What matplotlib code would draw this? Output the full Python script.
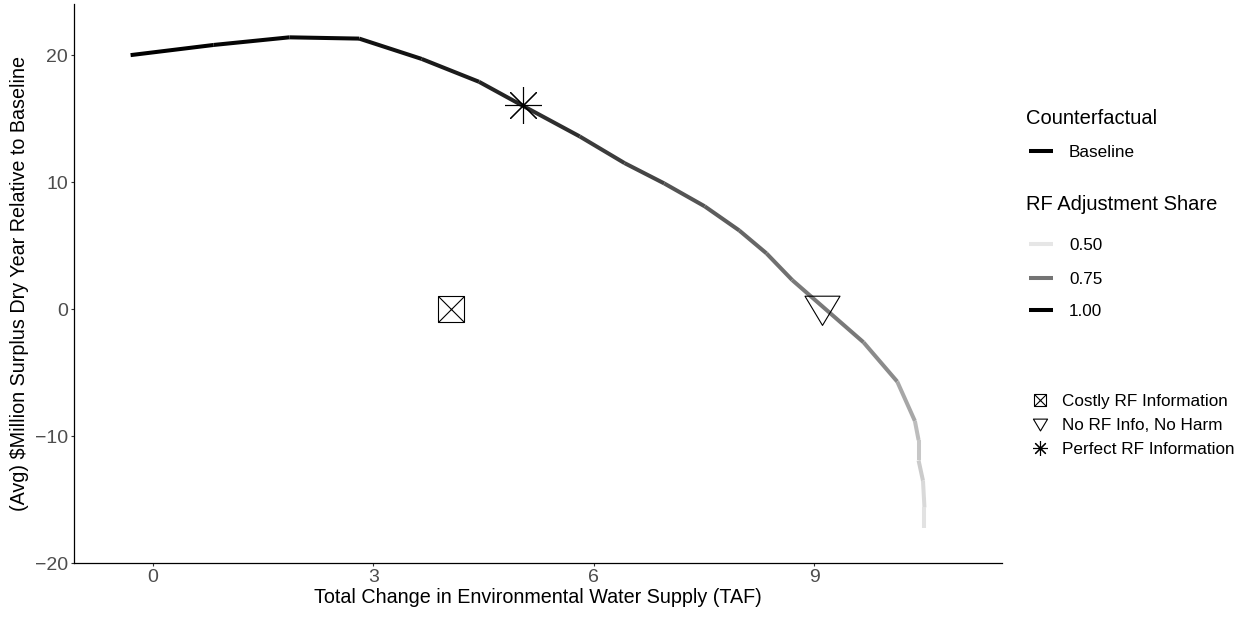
import matplotlib
matplotlib.use("Agg")
import matplotlib.pyplot as plt
import numpy as np
from matplotlib.collections import LineCollection
from matplotlib.colors import LinearSegmentedColormap, Normalize
from matplotlib.lines import Line2D
from matplotlib.path import Path

plt.rcParams["font.family"] = ["Liberation Sans", "DejaVu Sans"]

# frontier: environmental water gain vs. surplus change, coloured by RF adjustment share
water_taf = [-0.30, 0.83, 1.86, 2.81, 3.66, 4.44, 5.04, 5.81, 6.42, 6.96, 7.51,
             7.98, 8.35, 8.70, 9.67, 10.13, 10.37, 10.42, 10.42, 10.48, 10.50, 10.50]
surplus = [20.0, 20.8, 21.4, 21.3, 19.7, 17.9, 16.0, 13.6, 11.5, 9.9, 8.1,
           6.2, 4.4, 2.3, -2.6, -5.7, -8.8, -10.3, -11.9, -13.5, -15.6, -17.2]
rf_share = [1.00, 0.99, 0.98, 0.96, 0.94, 0.92, 0.90, 0.87, 0.85, 0.82, 0.80,
            0.78, 0.76, 0.74, 0.70, 0.64, 0.59, 0.57, 0.56, 0.53, 0.51, 0.50]

# single counterfactual scenarios
costly_info = (4.06, 0.0)
no_info = (9.11, 0.0)
perfect_info = (5.04, 16.06)

share_breaks = [0.50, 0.75, 1.00]
point_labels = ["Costly RF Information", "No RF Info, No Harm", "Perfect RF Information"]
x_ticks = [0, 3, 6, 9]
y_ticks = [-20, -10, 0, 10, 20]

W, H = 1245, 617
grey_ramp = LinearSegmentedColormap.from_list("greys", ["#e6e6e6", "#747474", "#000000"])
norm = Normalize(0.5, 1.0)

fig = plt.figure(figsize=(W / 100, H / 100), dpi=100)
ax = fig.add_axes([74 / W, 1 - 563.3 / H, (1002 - 74) / W, (563.3 - 4.3) / H])

pts = np.column_stack([water_taf, surplus])
segs = np.stack([pts[:-1], pts[1:]], axis=1)
seg_share = np.array(rf_share[:-1])
lc = LineCollection(segs, colors=grey_ramp(norm(seg_share)), linewidths=2.9,
                    capstyle="butt", joinstyle="round")
ax.add_collection(lc)

# point markers
tri = Path([(-1, 0.76), (1, 0.76), (0, -0.91), (-1, 0.76)],
           [Path.MOVETO, Path.LINETO, Path.LINETO, Path.CLOSEPOLY])
ax.plot(*costly_info, marker="s", ms=19.4, mfc="none", mec="black", mew=0.8, ls="none")
ax.plot(*costly_info, marker="x", ms=19.4, mec="black", mew=0.8, ls="none")
ax.plot(*no_info, marker=tri, ms=25.2, mfc="none", mec="black", mew=0.8, ls="none")
ax.plot(*perfect_info, marker=(8, 2, 0), ms=26.6, mec="black", mew=0.8, ls="none")

ax.set_xlim(-1.07, 11.555)
ax.set_ylim(-20, 24)
ax.set_xticks(x_ticks)
ax.set_yticks(y_ticks)
ax.set_yticklabels([str(v).replace("-", "\u2212") for v in y_ticks])
for side in ["top", "right"]:
    ax.spines[side].set_visible(False)
for side in ["left", "bottom"]:
    ax.spines[side].set_linewidth(0.9)
ax.tick_params(length=2.4, width=0.8, color="#333333", labelcolor="#4d4d4d",
               labelsize=14, pad=2)
ax.set_xlabel("Total Change in Environmental Water Supply (TAF)", fontsize=14.2, labelpad=1)
ax.set_ylabel("(Avg) \\$Million Surplus Dry Year Relative to Baseline", fontsize=14.2, labelpad=4)


# legend drawn in pixel positions on the figure
def fx(px):
    return px / W


def fy(py):
    return 1 - py / H


def legend_title(text, y):
    fig.text(fx(1026), fy(y + 7.2), text, fontsize=14.5, va="baseline", ha="left")


def legend_label(text, x, y):
    fig.text(fx(x), fy(y + 6.0), text, fontsize=12.3, va="baseline", ha="left")


def legend_line(y, color):
    fig.add_artist(Line2D([fx(1029), fx(1053)], [fy(y), fy(y)], color=color, lw=2.9,
                          solid_capstyle="butt", transform=fig.transFigure))


legend_title("Counterfactual", 116.7)
legend_line(151, "black")
legend_label("Baseline", 1069, 151)

legend_title("RF Adjustment Share", 202.7)
for s, y in zip(share_breaks, [244, 277.5, 310]):
    legend_line(y, grey_ramp(norm(s)))
    legend_label(f"{s:.2f}", 1069, y)

marker_rows = [400, 423.5, 448]
key_style = dict(mfc="none", mec="black", mew=0.8, ls="none", transform=fig.transFigure)
fig.add_artist(Line2D([fx(1040)], [fy(marker_rows[0])], marker="s", ms=8.4, **key_style))
fig.add_artist(Line2D([fx(1040)], [fy(marker_rows[0])], marker="x", ms=8.4, **key_style))
fig.add_artist(Line2D([fx(1040)], [fy(marker_rows[1])], marker=tri, ms=10.2, **key_style))
fig.add_artist(Line2D([fx(1040)], [fy(marker_rows[2])], marker=(8, 2, 0), ms=10.8, **key_style))
for text, y in zip(point_labels, marker_rows):
    legend_label(text, 1062, y)

fig.savefig("out.png", dpi=100)
